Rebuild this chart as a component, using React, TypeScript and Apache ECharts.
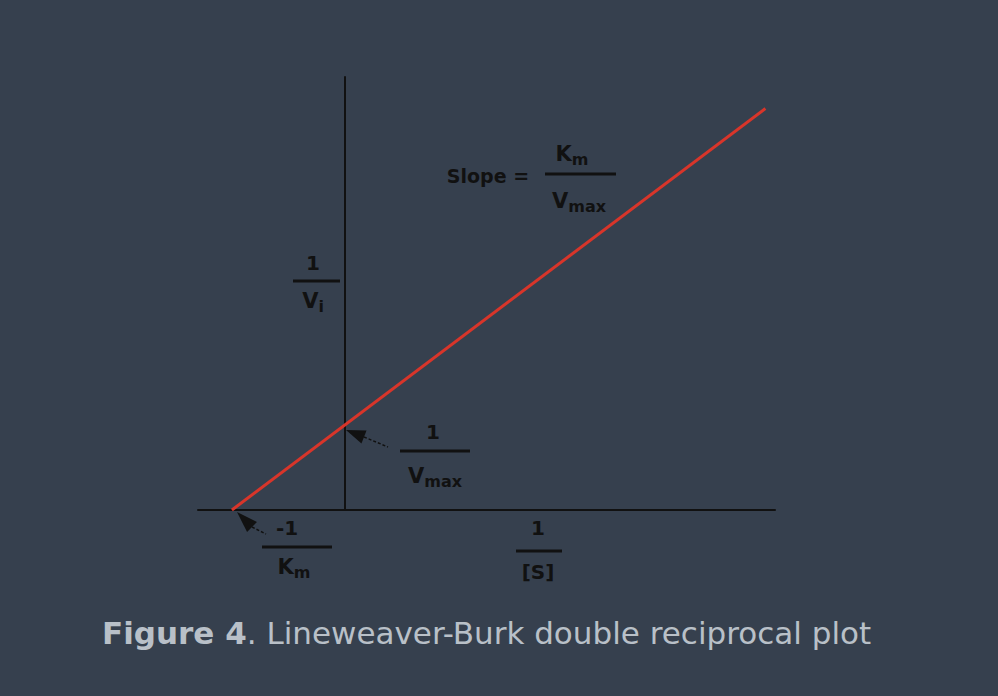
import React, { useEffect, useRef } from "react";
import * as echarts from "echarts";

// Lineweaver-Burk line in reciprocal units (Km = 1, Vmax = 1)
const lineX = [-1, 3.72];
const lineY = [0, 4.72];
const xRange = [-1.3, 3.805];
const yRange = [0, 5.09];
const captionBold = "Figure 4";
const captionRest = ". Lineweaver-Burk double reciprocal plot";

const BG = "#36404e";
const INK = "#111111";
const FONT = "DejaVu Sans";

function txt(text: string, x: number, y: number, size = 20, align = "center") {
  return {
    type: "text",
    x,
    y,
    style: {
      text,
      fill: INK,
      font: `bold ${size}px "${FONT}"`,
      align,
      verticalAlign: "middle",
    },
  };
}
function richTxt(main: string, sub: string, x: number, y: number) {
  return {
    type: "text",
    x,
    y,
    style: {
      text: `{a|${main}}{b|${sub}}`,
      align: "center",
      verticalAlign: "middle",
      rich: {
        a: { fill: INK, fontFamily: FONT, fontWeight: "bold", fontSize: 21, verticalAlign: "bottom", lineHeight: 24 },
        b: { fill: INK, fontFamily: FONT, fontWeight: "bold", fontSize: 16, verticalAlign: "bottom", lineHeight: 18, padding: [0, 0, -3, 0] },
      },
    },
  };
}
function bar(x1: number, x2: number, y: number) {
  return { type: "line", shape: { x1, y1: y, x2, y2: y }, style: { stroke: INK, lineWidth: 3 } };
}
function arrow(tx: number, ty: number, bx: number, by: number, ex: number, ey: number) {
  const dx = bx - tx, dy = by - ty;
  const len = Math.hypot(dx, dy);
  const ux = dx / len, uy = dy / len;
  const hw = 7;
  return [
    {
      type: "polygon",
      shape: { points: [[tx, ty], [bx - uy * hw, by + ux * hw], [bx + uy * hw, by - ux * hw]] },
      style: { fill: INK },
    },
    {
      type: "line",
      shape: { x1: bx, y1: by, x2: ex, y2: ey },
      style: { stroke: INK, lineWidth: 1.5, lineDash: [3, 2] },
    },
  ];
}

export default function App() {
  const ref = useRef<HTMLDivElement>(null);
  useEffect(() => {
    if (!ref.current) return;
    const chart = echarts.init(ref.current, undefined, { renderer: "svg" });
    chart.setOption({
      animation: false,
      backgroundColor: BG,
      grid: { left: 198, right: 223, top: 77, bottom: 186 },
      xAxis: {
        type: "value",
        min: xRange[0],
        max: xRange[1],
        axisLine: { show: true, lineStyle: { color: INK, width: 2 } },
        axisTick: { show: false },
        axisLabel: { show: false },
        splitLine: { show: false },
      },
      yAxis: {
        type: "value",
        min: yRange[0],
        max: yRange[1],
        axisLine: { show: true, onZero: true, lineStyle: { color: INK, width: 2 } },
        axisTick: { show: false },
        axisLabel: { show: false },
        splitLine: { show: false },
      },
      series: [
        {
          type: "line",
          data: lineX.map((x, i) => [x, lineY[i]]),
          symbol: "none",
          lineStyle: { color: "#d8352a", width: 3 },
          silent: true,
        },
      ],
      title: {
        text: `{b|${captionBold}}{r|${captionRest}}`,
        left: 97,
        top: 612,
        textStyle: {
          rich: {
            b: { fontFamily: "DejaVu Sans", fontWeight: "bold", fontSize: 31, color: "#b9c0c8" },
            r: { fontFamily: "DejaVu Sans", fontWeight: "normal", fontSize: 31, color: "#b9c0c8" },
          },
        },
      },
      graphic: [
        // 1 / Vi
        txt("1", 313, 263),
        bar(293, 340, 281),
        richTxt("V", "i", 313, 299),
        // Slope = Km / Vmax
        txt("Slope =", 488, 176, 19),
        richTxt("K", "m", 572, 152),
        bar(545, 616, 174),
        richTxt("V", "max", 579, 199),
        // 1 / Vmax
        txt("1", 433, 432),
        bar(400, 470, 451),
        richTxt("V", "max", 435, 474),
        ...arrow(346, 430, 364, 437, 388, 447),
        // -1 / Km
        txt("-1", 287, 528),
        bar(262, 332, 547),
        richTxt("K", "m", 294, 565),
        ...arrow(237, 512, 252, 527, 266, 534),
        // 1 / [S]
        txt("1", 538, 528),
        bar(516, 562, 551),
        txt("[S]", 538, 572),
      ],
    });
    return () => chart.dispose();
  }, []);
  return <div ref={ref} style={{ position: "fixed", left: 0, top: 0, width: 998, height: 696 }} />;
}
